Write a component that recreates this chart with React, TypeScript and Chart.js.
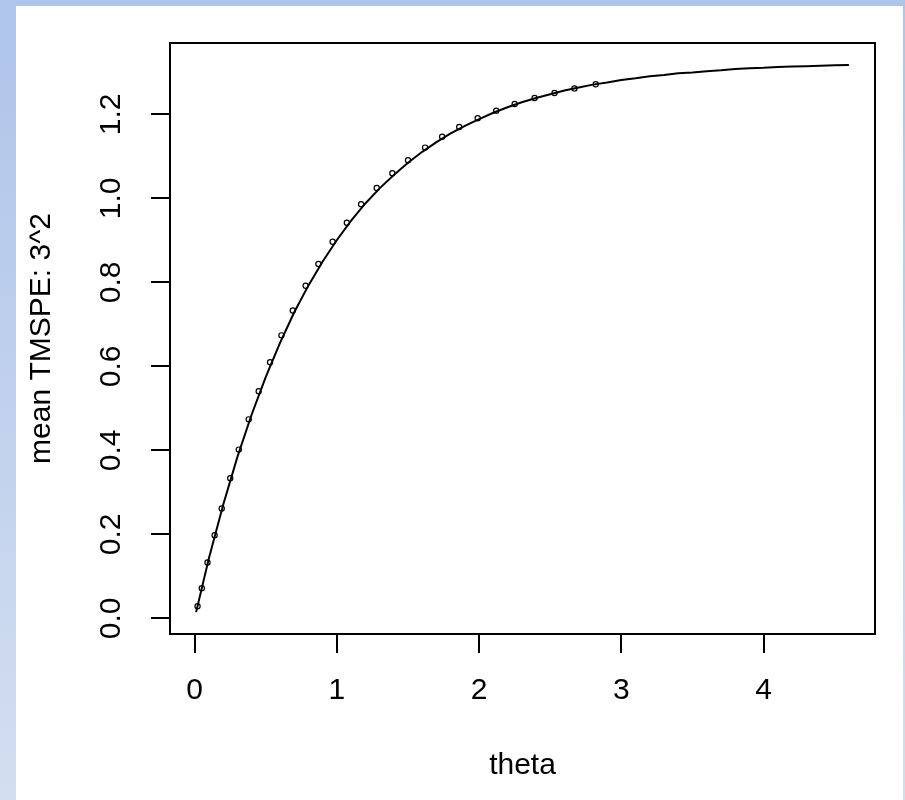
import React, { useEffect, useRef } from "react";
import { Chart, registerables } from "chart.js";

Chart.register(...registerables);

// Fitted curve (solid line)
const thetaLine = [
  0.01, 0.1, 0.2, 0.3, 0.4, 0.5, 0.6, 0.7, 0.8, 0.9, 1.0, 1.1, 1.2, 1.3, 1.4, 1.5,
  1.6, 1.7, 1.8, 1.9, 2.0, 2.1, 2.2, 2.3, 2.4, 2.5, 2.6, 2.7, 2.8, 2.9, 3.0, 3.1,
  3.2, 3.3, 3.4, 3.5, 3.6, 3.7, 3.8, 3.9, 4.0, 4.1, 4.2, 4.3, 4.4, 4.5, 4.6,
];
const tmspeLine = [
  0.015, 0.143, 0.27, 0.384, 0.485, 0.575, 0.656, 0.729, 0.793, 0.85, 0.901, 0.947,
  0.988, 1.024, 1.056, 1.085, 1.111, 1.134, 1.155, 1.173, 1.189, 1.204, 1.217, 1.229,
  1.239, 1.248, 1.257, 1.264, 1.271, 1.276, 1.282, 1.286, 1.291, 1.294, 1.298, 1.3,
  1.303, 1.305, 1.308, 1.31, 1.311, 1.313, 1.314, 1.315, 1.316, 1.317, 1.318,
];

// Simulated means (open circles)
const thetaPts = [
  0.02, 0.05, 0.09, 0.14, 0.19, 0.25, 0.31, 0.38, 0.45, 0.53, 0.61, 0.69, 0.78,
  0.87, 0.97, 1.07, 1.17, 1.28, 1.39, 1.5, 1.62, 1.74, 1.86, 1.99, 2.12, 2.25,
  2.39, 2.53, 2.67, 2.82,
];
const tmspePts = [
  0.029, 0.072, 0.133, 0.198, 0.262, 0.334, 0.402, 0.474, 0.541, 0.61, 0.674, 0.733,
  0.792, 0.844, 0.897, 0.942, 0.986, 1.025, 1.06, 1.091, 1.121, 1.147, 1.17, 1.191,
  1.209, 1.225, 1.239, 1.251, 1.262, 1.272,
];

const xTicks = [0, 1, 2, 3, 4];
const yTicks = [0, 0.2, 0.4, 0.6, 0.8, 1.0, 1.2];

const xTitle = "theta";
const yTitle = "mean TMSPE: 3^2";

const FONT = "'Liberation Sans', Arial, Helvetica, sans-serif";

export default function App() {
  const ref = useRef<HTMLCanvasElement>(null);

  useEffect(() => {
    const allX = [...thetaLine, ...thetaPts];
    const allY = [...tmspeLine, ...tmspePts];
    const xMinD = Math.min(...allX);
    const xMaxD = Math.max(...allX);
    const yMinD = Math.min(...allY);
    const yMaxD = Math.max(...allY);
    const xr = xMaxD - xMinD;
    const yr = yMaxD - yMinD;

    const boxPlugin = {
      id: "rbox",
      afterDraw(chart: any) {
        const { ctx, chartArea } = chart;
        ctx.save();
        ctx.strokeStyle = "#000";
        ctx.lineWidth = 2;
        ctx.strokeRect(
          chartArea.left,
          chartArea.top,
          chartArea.right - chartArea.left,
          chartArea.bottom - chartArea.top
        );
        ctx.restore();
      },
    };

    const chart = new Chart(ref.current!, {
      type: "scatter",
      data: {
        datasets: [
          {
            label: "fit",
            data: thetaLine.map((x, i) => ({ x, y: tmspeLine[i] })),
            showLine: true,
            borderColor: "#000",
            borderWidth: 2,
            pointRadius: 0,
            tension: 0,
          },
          {
            label: "mean",
            data: thetaPts.map((x, i) => ({ x, y: tmspePts[i] })),
            showLine: false,
            pointStyle: "circle",
            pointRadius: 2.6,
            pointBorderWidth: 1.2,
            pointBorderColor: "#000",
            pointBackgroundColor: "rgba(0,0,0,0)",
          },
        ],
      },
      options: {
        animation: false,
        responsive: false,
        devicePixelRatio: 1,
        layout: { padding: { left: 0, top: 37, right: 28, bottom: 0 } },
        plugins: {
          legend: { display: false },
          tooltip: { enabled: false },
        },
        scales: {
          x: {
            type: "linear",
            min: xMinD - 0.04 * xr,
            max: xMaxD + 0.04 * xr,
            afterBuildTicks: (s: any) => {
              s.ticks = xTicks.map((v) => ({ value: v }));
            },
            afterFit: (s: any) => {
              s.height = 166;
            },
            border: { display: false },
            grid: {
              drawOnChartArea: false,
              drawTicks: true,
              tickLength: 19,
              color: "#000",
              lineWidth: 2,
            },
            ticks: {
              includeBounds: false,
              minRotation: 0,
              maxRotation: 0,
              padding: 20,
              color: "#000",
              font: { family: FONT, size: 30 },
              callback: (v: any) => String(v),
            },
            title: {
              display: true,
              text: xTitle,
              color: "#000",
              font: { family: FONT, size: 30 },
              padding: { top: 0, bottom: 16 },
            },
          },
          y: {
            type: "linear",
            min: yMinD - 0.04 * yr,
            max: yMaxD + 0.04 * yr,
            afterBuildTicks: (s: any) => {
              s.ticks = yTicks.map((v) => ({ value: v }));
            },
            afterFit: (s: any) => {
              s.width = 154;
            },
            border: { display: false },
            grid: {
              drawOnChartArea: false,
              drawTicks: true,
              tickLength: 19,
              color: "#000",
              lineWidth: 2,
            },
            ticks: {
              includeBounds: false,
              minRotation: 90,
              maxRotation: 90,
              crossAlign: "center",
              padding: 18,
              color: "#000",
              font: { family: FONT, size: 30 },
              callback: (v: any) => Number(v).toFixed(1),
            },
            title: {
              display: true,
              text: yTitle,
              color: "#000",
              font: { family: FONT, size: 30 },
              padding: { top: 8, bottom: 0 },
            },
          },
        },
      },
      plugins: [boxPlugin],
    });
    return () => chart.destroy();
  }, []);

  return (
    <div
      style={{
        position: "fixed",
        left: 0,
        top: 0,
        width: 905,
        height: 800,
        overflow: "hidden",
        background: "linear-gradient(to bottom, #AEC4EA, #D3DEF0)",
      }}
    >
      <div
        style={{
          position: "absolute",
          left: 16,
          top: 6,
          width: 887,
          height: 794,
          background: "#fff",
        }}
      >
        <canvas
          ref={ref}
          width={887}
          height={794}
          style={{ display: "block", width: 887, height: 794 }}
        />
      </div>
    </div>
  );
}
